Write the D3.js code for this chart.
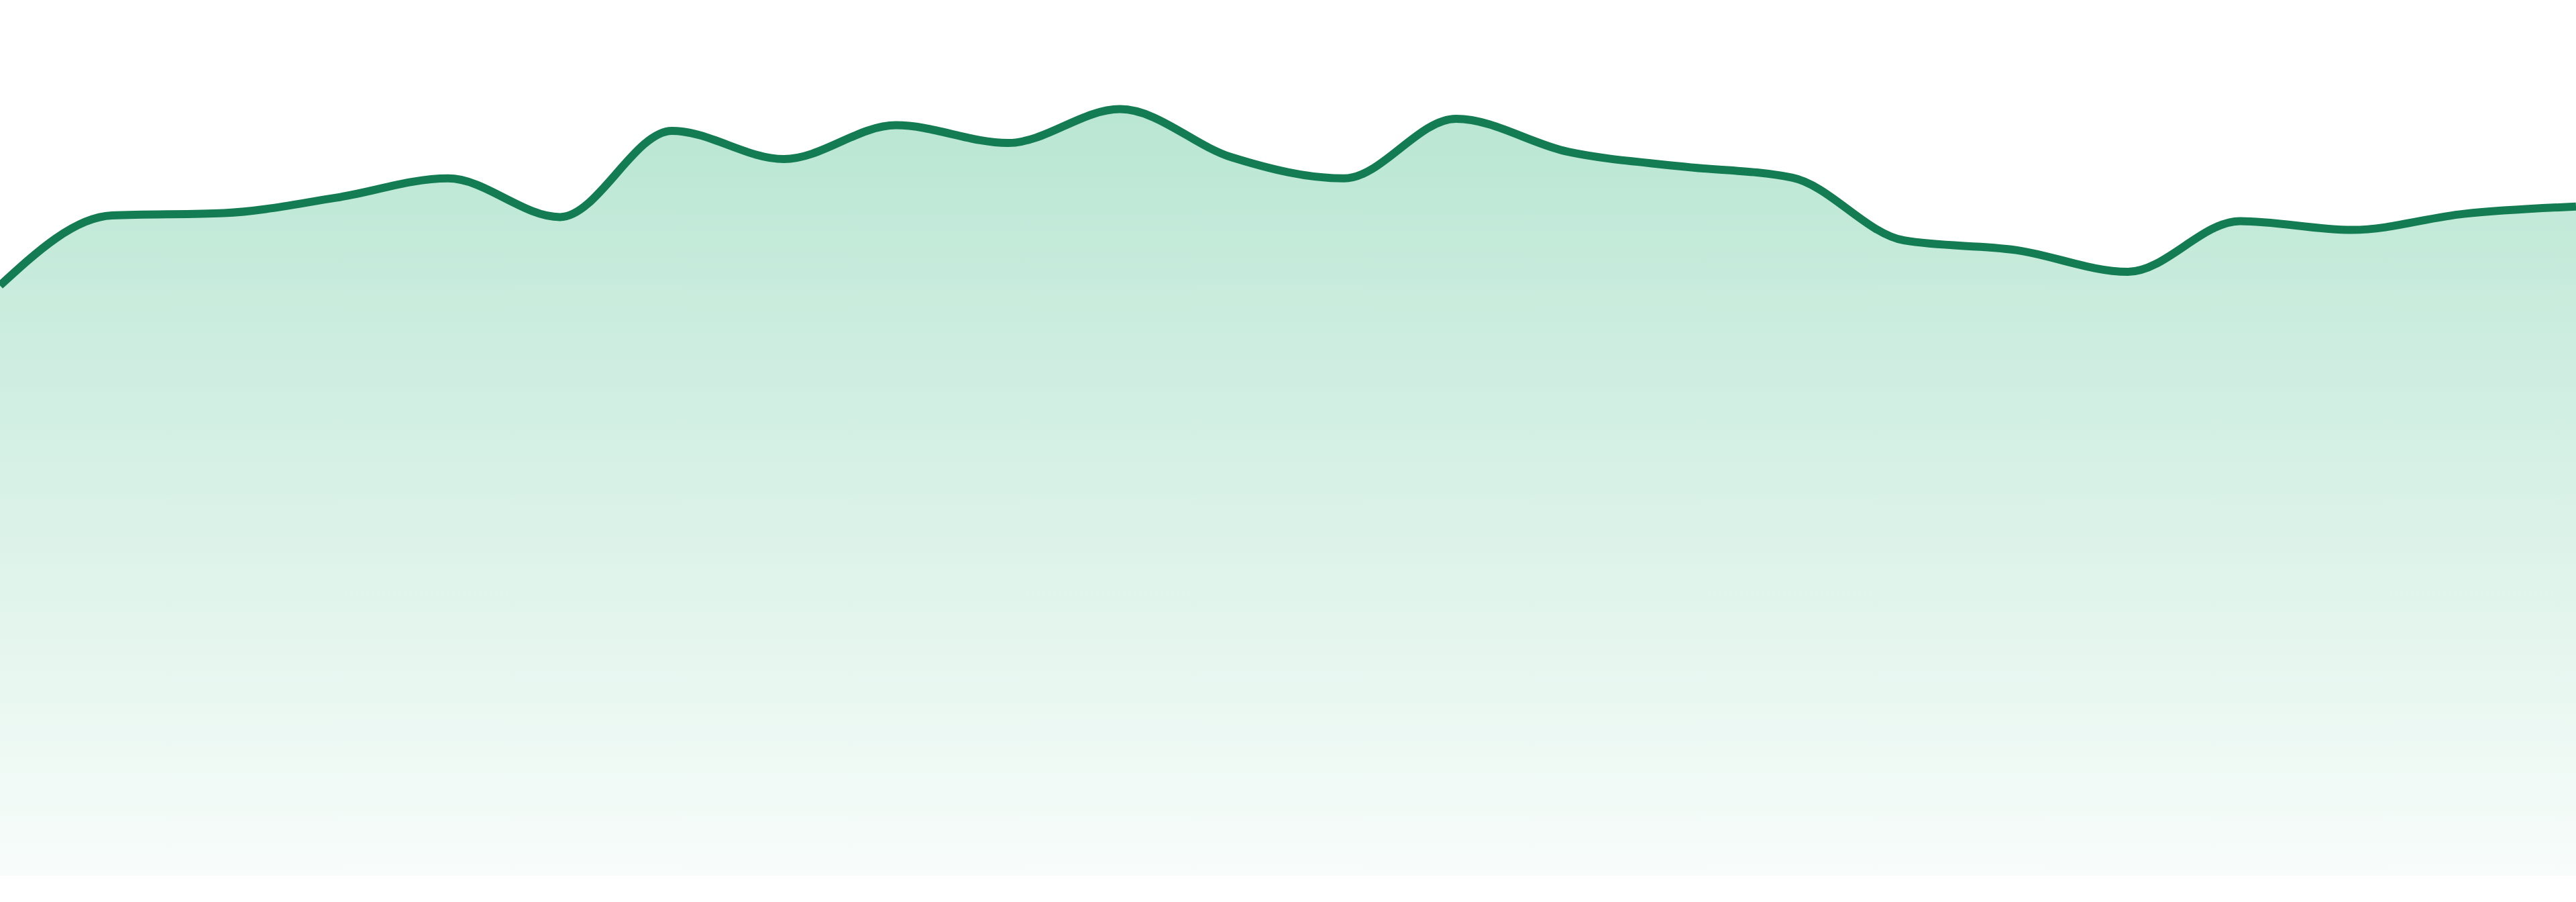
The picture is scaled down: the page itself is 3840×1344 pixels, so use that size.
<!DOCTYPE html>
<html>
<head>
<meta charset="utf-8">
<script src="https://cdn.jsdelivr.net/npm/d3@7"></script>
<style>
  html, body { margin: 0; padding: 0; background: #fff; overflow: hidden; }
</style>
</head>
<body>
<div class="graphics"></div>
<script>
// one value per point, evenly spaced across the whole width
const categories = d3.range(1, 25).map(String);
const values = [73.3, 82.0, 82.3, 84.2, 86.6, 81.8, 92.5, 89.0, 93.2, 91.0, 95.2, 89.2,
                86.6, 94.0, 89.9, 88.1, 86.7, 78.9, 77.7, 75.0, 81.3, 80.2, 82.2, 83.1];
const yDomain = [0, 100];

const width = 3840;
const height = 1344;
const margin = { top: 105, bottom: 39, left: 0, right: 0 };

const data = categories.map((c, i) => ({ cat: c, val: values[i] }));

const svg = d3.select('.graphics')
  .append('svg')
  .attr('width', width)
  .attr('height', height)
  .attr('viewBox', [0, 0, width, height]);

const x = d3.scalePoint()
  .domain(categories)
  .range([margin.left, width - margin.right]);

const y = d3.scaleLinear()
  .domain(yDomain)
  .range([height - margin.bottom, margin.top]);

const grad = svg.append('defs')
  .append('linearGradient')
  .attr('id', 'fillGrad')
  .attr('gradientUnits', 'userSpaceOnUse')
  .attr('x1', 0).attr('x2', 0)
  .attr('y1', y(d3.max(values)))
  .attr('y2', y(0));

grad.append('stop').attr('offset', 0).attr('stop-color', '#b9e6d3').attr('stop-opacity', 1);
grad.append('stop').attr('offset', 1).attr('stop-color', '#b9e6d3').attr('stop-opacity', 0.1);

const area = d3.area()
  .x(d => x(d.cat))
  .y0(y(0))
  .y1(d => y(d.val))
  .curve(d3.curveMonotoneX);

const line = d3.line()
  .x(d => x(d.cat))
  .y(d => y(d.val))
  .curve(d3.curveMonotoneX);

svg.append('path')
  .datum(data)
  .attr('fill', 'url(#fillGrad)')
  .attr('d', area);

svg.append('path')
  .datum(data)
  .attr('fill', 'none')
  .attr('stroke', '#137c52')
  .attr('stroke-width', 12)
  .attr('stroke-linejoin', 'round')
  .attr('d', line);
</script>
</body>
</html>
